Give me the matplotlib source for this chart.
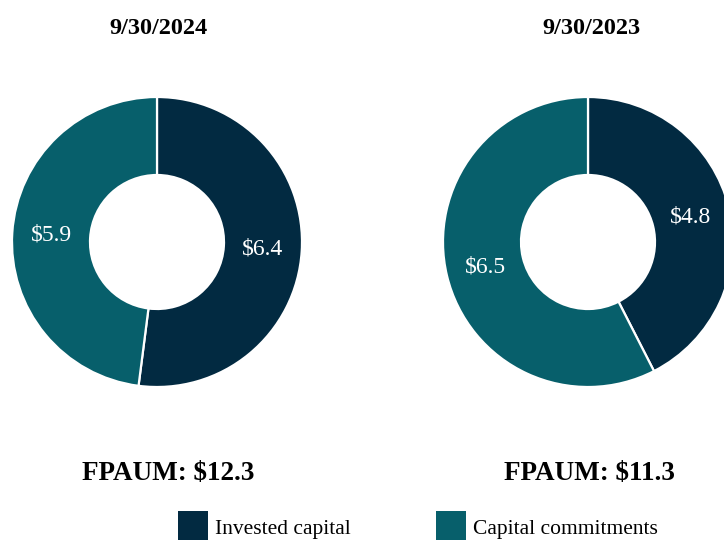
import matplotlib
matplotlib.use("Agg")
import matplotlib.pyplot as plt
from matplotlib.patches import Patch

# ---- data ----
categories = ["Invested capital", "Capital commitments"]
dates = ["9/30/2024", "9/30/2023"]
values_2024 = [6.4, 5.9]
values_2023 = [4.8, 6.5]
totals = [12.3, 11.3]
colors = ["#022A41", "#075F6B"]

plt.rcParams['font.family'] = ['Liberation Serif', 'DejaVu Serif']

W, H = 724, 540
fig = plt.figure(figsize=(W / 100, H / 100), dpi=100)
ax = fig.add_axes([0, 0, 1, 1])

centers = [(157, H - 242), (588, H - 242)]
R = 145
ring = 78
series = [values_2024, values_2023]

for (cx, cy), vals, date, tot in zip(centers, series, dates, totals):
    s = sum(vals)
    wedges, texts, autotexts = ax.pie(
        vals, colors=colors, startangle=90, counterclock=False,
        center=(cx, cy), radius=R,
        wedgeprops=dict(width=ring, edgecolor="white", linewidth=1.6),
        autopct=lambda p, s=s: f"${p * s / 100:.1f}", pctdistance=0.73,
        textprops=dict(color="white", fontsize=17),
    )
    ax.text(cx + (1 if cx < 300 else 3), H - 28, date, ha="center", va="center",
            fontsize=17.5, fontweight="bold", color="black")
    ax.text(cx + (11 if cx < 300 else 1), H - 473, f"FPAUM: ${tot:.1f}", ha="center",
            va="center", fontsize=19.5, fontweight="bold", color="black")

ax.set_xlim(0, W)
ax.set_ylim(0, H)
ax.set_aspect("auto")
ax.axis("off")

handles = [Patch(facecolor=c, edgecolor="none") for c in colors]
fig.legend(handles, categories, loc="upper left",
           bbox_to_anchor=(178 / W, (H - 511) / H), ncol=2, frameon=False,
           fontsize=15.5, handlelength=1.38, handleheight=2.0,
           handletextpad=0.35, columnspacing=3.95, borderpad=0,
           borderaxespad=0)

fig.savefig("out.png", dpi=100)
